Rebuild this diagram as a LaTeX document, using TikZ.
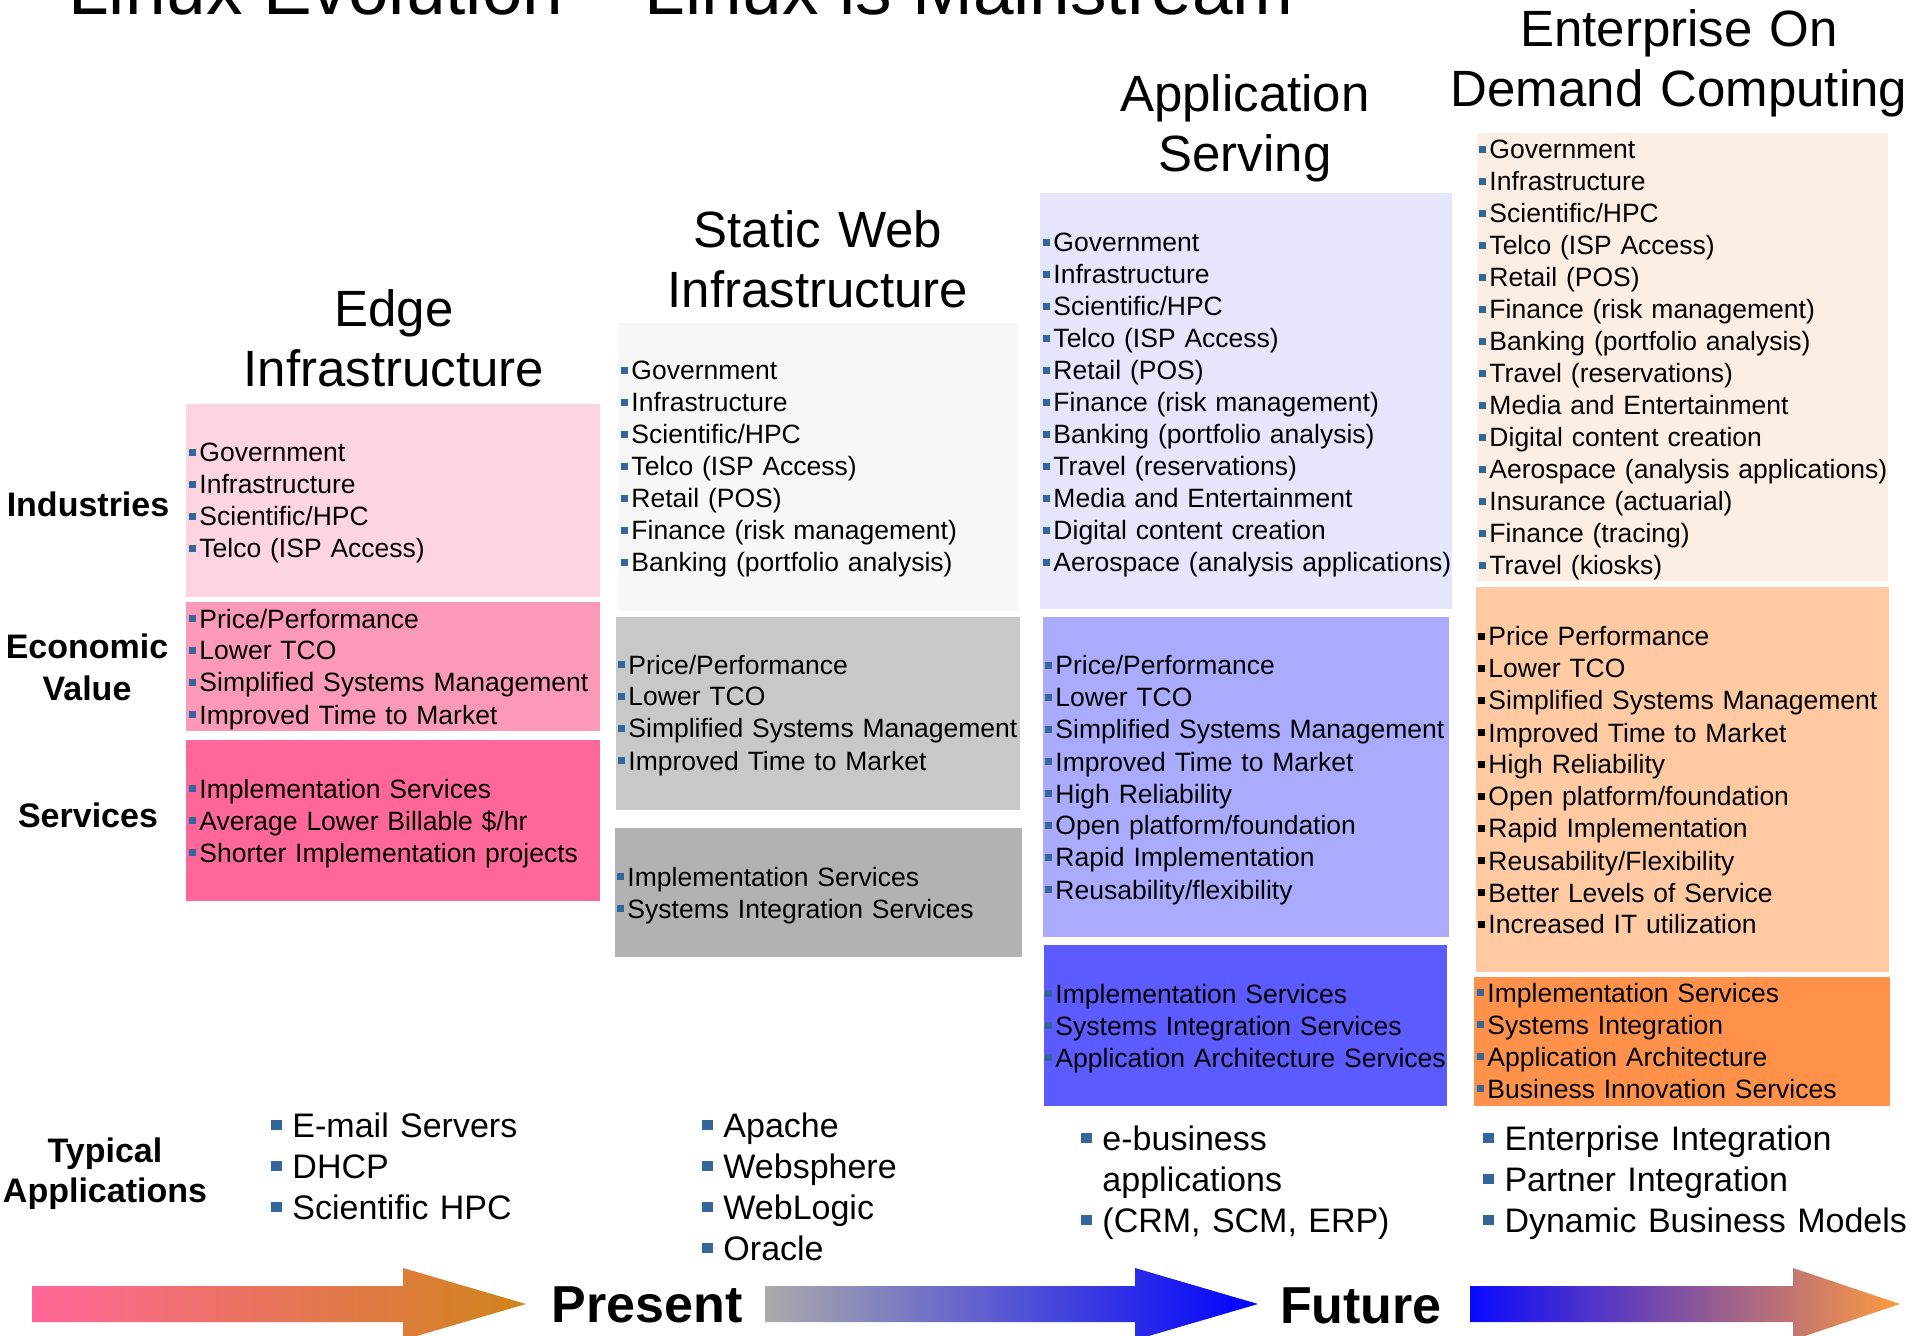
\documentclass[tikz,border=0pt]{standalone}
\usepackage{fontspec}
\setmainfont{Liberation Sans}
\usetikzlibrary{arrows.meta}

\definecolor{edgeInd}{RGB}{253,213,226}
\definecolor{edgeEco}{RGB}{252,153,184}
\definecolor{edgeSrv}{RGB}{255,102,153}
\definecolor{webInd}{RGB}{247,247,247}
\definecolor{webEco}{RGB}{200,200,200}
\definecolor{webSrv}{RGB}{178,178,178}
\definecolor{appInd}{RGB}{229,229,252}
\definecolor{appEco}{RGB}{170,170,255}
\definecolor{appSrv}{RGB}{91,91,255}
\definecolor{entInd}{RGB}{253,238,228}
\definecolor{entEco}{RGB}{255,201,162}
\definecolor{entSrv}{RGB}{255,145,74}
\definecolor{bulletblue}{RGB}{51,102,153}
\definecolor{arrPink}{RGB}{255,102,153}
\definecolor{arrOrange}{RGB}{208,132,26}
\definecolor{arrGrey}{RGB}{170,170,170}
\definecolor{arrBlue}{RGB}{0,0,255}
\definecolor{arrBlueB}{RGB}{10,10,255}
\definecolor{arrPeach}{RGB}{255,154,64}

\newcommand{\boxbul}{\makebox[0.38em][l]{\textcolor{bulletblue}{\rule[0.24em]{0.25em}{0.25em}}}}
\newcommand{\blkbul}{\makebox[0.38em][l]{\textcolor{black}{\rule[0.24em]{0.25em}{0.25em}}}}
\newcommand{\appbul}{\makebox[0.62em][l]{\textcolor{bulletblue}{\rule[0.2em]{0.3em}{0.3em}}}}

\begin{document}
\begin{tikzpicture}[x=0.5pt, y=-0.5pt]
    \useasboundingbox (0,0) rectangle (1911,1336);
    \clip (0,0) rectangle (1911,1336);

    \node[anchor=base west, inner sep=0, font=\fontsize{36.5pt}{40pt}\selectfont] (T) at (68,15) {Linux Evolution – Linux is Mainstream};

    \fill[edgeInd] (186,404) rectangle (600,597);
    \fill[edgeEco] (186,602) rectangle (600,731);
    \fill[edgeSrv] (186,740) rectangle (600,901);
    \fill[webInd] (618,323) rectangle (1018,611);
    \fill[webEco] (616,617) rectangle (1020,810);
    \fill[webSrv] (615,828) rectangle (1022,957);
    \fill[appInd] (1040,193) rectangle (1452,609);
    \fill[appEco] (1043,617) rectangle (1449,937);
    \fill[appSrv] (1044,945) rectangle (1447,1106);
    \fill[entInd] (1477,133) rectangle (1888,581);
    \fill[entEco] (1476,587) rectangle (1889,972);
    \fill[entSrv] (1474,977) rectangle (1890,1106);

    \begin{scope}[every node/.style={anchor=base, inner sep=0, align=center, text width=260pt, font=\fontsize{25.5pt}{30pt}\selectfont}]
        \node (H_1) at (394,327) {Edge\\Infrastructure};
        \node (H_2) at (818,248) {Static Web\\Infrastructure};
        \node (H_3) at (1245,112) {Application\\Serving};
        \node (H_4) at (1679,47) {Enterprise On\\Demand Computing};
    \end{scope}

    \begin{scope}[every node/.style={anchor=base, inner sep=0, align=center, text width=110pt, font=\bfseries\fontsize{17pt}{21pt}\selectfont}]
        \node (L_1) at (88,517) {Industries};
        \node (L_2) at (87,658) {Economic\\Value};
        \node (L_3) at (88,827) {Services};
        \node[font=\bfseries\fontsize{17pt}{20pt}\selectfont] (L_4) at (105,1162) {Typical\\Applications};
    \end{scope}

    \begin{scope}[every node/.style={anchor=base west, inner sep=0, align=left, text width=230pt, font=\fontsize{13.25pt}{16pt}\selectfont}]
        \node (I_1) at (189,462) {\boxbul Government\\\boxbul Infrastructure\\\boxbul Scientific/HPC\\\boxbul Telco (ISP Access)};
        \node (E_1) at (189,628) {\boxbul Price/Performance\\\boxbul Lower TCO\\\boxbul Simplified Systems Management\\\boxbul Improved Time to Market};
        \node (S_1) at (189,798) {\boxbul Implementation Services\\\boxbul Average Lower Billable \$/hr\\\boxbul Shorter Implementation projects};

        \node (I_2) at (621,380) {\boxbul Government\\\boxbul Infrastructure\\\boxbul Scientific/HPC\\\boxbul Telco (ISP Access)\\\boxbul Retail (POS)\\\boxbul Finance (risk management)\\\boxbul Banking (portfolio analysis)};
        \node (E_2) at (618,674) {\boxbul Price/Performance\\\boxbul Lower TCO\\\boxbul Simplified Systems Management\\\boxbul Improved Time to Market};
        \node (S_2) at (617,886) {\boxbul Implementation Services\\\boxbul Systems Integration Services};

        \node (I_3) at (1043,252) {\boxbul Government\\\boxbul Infrastructure\\\boxbul Scientific/HPC\\\boxbul Telco (ISP Access)\\\boxbul Retail (POS)\\\boxbul Finance (risk management)\\\boxbul Banking (portfolio analysis)\\\boxbul Travel (reservations)\\\boxbul Media and Entertainment\\\boxbul Digital content creation\\\boxbul Aerospace (analysis applications)};
        \node (E_3) at (1045,675) {\boxbul Price/Performance\\\boxbul Lower TCO\\\boxbul Simplified Systems Management\\\boxbul Improved Time to Market\\\boxbul High Reliability\\\boxbul Open platform/foundation\\\boxbul Rapid Implementation\\\boxbul Reusability/flexibility};
        \node (S_3) at (1045,1003) {\boxbul Implementation Services\\\boxbul Systems Integration Services\\\boxbul Application Architecture Services};

        \node (I_4) at (1479,159) {\boxbul Government\\\boxbul Infrastructure\\\boxbul Scientific/HPC\\\boxbul Telco (ISP Access)\\\boxbul Retail (POS)\\\boxbul Finance (risk management)\\\boxbul Banking (portfolio analysis)\\\boxbul Travel (reservations)\\\boxbul Media and Entertainment\\\boxbul Digital content creation\\\boxbul Aerospace (analysis applications)\\\boxbul Insurance (actuarial)\\\boxbul Finance (tracing)\\\boxbul Travel (kiosks)};
        \node (E_4) at (1478,646) {\blkbul Price Performance\\\blkbul Lower TCO\\\blkbul Simplified Systems Management\\\blkbul Improved Time to Market\\\blkbul High Reliability\\\blkbul Open platform/foundation\\\blkbul Rapid Implementation\\\blkbul Reusability/Flexibility\\\blkbul Better Levels of Service\\\blkbul Increased IT utilization};
        \node (S_4) at (1477,1002) {\boxbul Implementation Services\\\boxbul Systems Integration\\\boxbul Application Architecture\\\boxbul Business Innovation Services};
    \end{scope}

    \begin{scope}[every node/.style={anchor=base west, inner sep=0, align=left, text width=230pt, font=\fontsize{17pt}{20.5pt}\selectfont}]
        \node (P_1) at (271,1137) {\appbul E-mail Servers\\\appbul DHCP\\\appbul Scientific HPC};
        \node (P_2) at (702,1137) {\appbul Apache\\\appbul Websphere\\\appbul WebLogic\\\appbul Oracle};
        \node (P_3) at (1081,1150) {\appbul e-business\\\makebox[0.62em]{}applications\\\appbul (CRM, SCM, ERP)};
        \node (P_4) at (1483,1150) {\appbul Enterprise Integration\\\appbul Partner Integration\\\appbul Dynamic Business Models};
    \end{scope}

    \shade[left color=arrPink, right color=arrOrange] (32,1286) -- (403,1286) -- (403,1268) -- (526,1304) -- (403,1340) -- (403,1322) -- (32,1322) -- cycle;
    \shade[left color=arrGrey, right color=arrBlue] (765,1286) -- (1135,1286) -- (1135,1268) -- (1258,1304) -- (1135,1340) -- (1135,1322) -- (765,1322) -- cycle;
    \shade[left color=arrBlueB, right color=arrPeach] (1470,1286) -- (1793,1286) -- (1793,1268) -- (1900,1304) -- (1793,1340) -- (1793,1322) -- (1470,1322) -- cycle;

    \begin{scope}[every node/.style={anchor=base, inner sep=0, font=\bfseries\fontsize{26pt}{30pt}\selectfont}]
        \node (N_1) at (647,1322) {Present};
        \node (N_2) at (1361,1323) {Future};
    \end{scope}
\end{tikzpicture}
\end{document}
